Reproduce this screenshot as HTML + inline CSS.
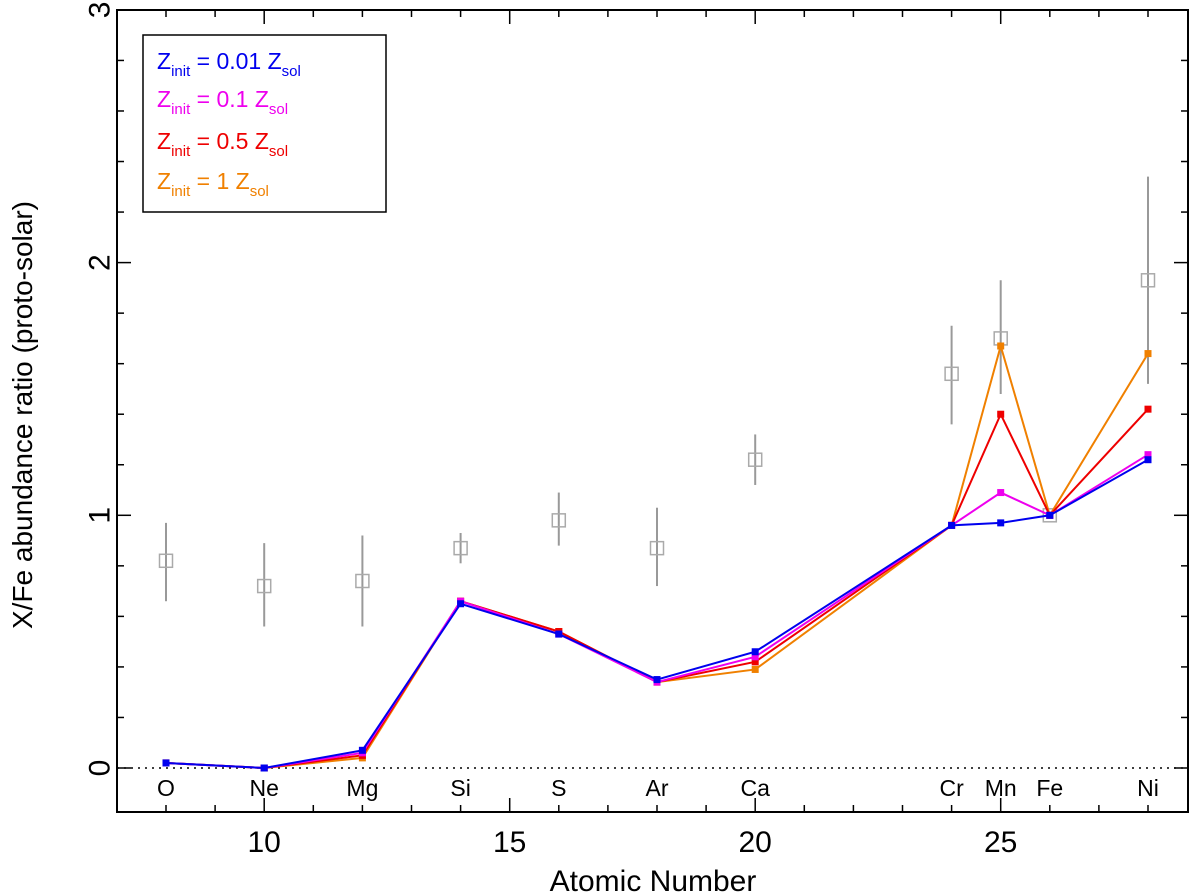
<!DOCTYPE html>
<html><head><meta charset="utf-8"><style>
body{margin:0;background:#fff}
svg{display:block;font-family:"Liberation Sans",sans-serif}
</style></head><body>
<svg id="c" width="1200" height="893" xmlns="http://www.w3.org/2000/svg">
<g id="grid"></g>
<rect x="117" y="10" width="1071" height="802" fill="none" stroke="#000" stroke-width="2"/>
<text x="32" y="415" font-size="28" text-anchor="middle" transform="rotate(-90 32 415)">X/Fe abundance ratio (proto-solar)</text>
<text x="653" y="891" font-size="30" text-anchor="middle">Atomic Number</text>
<g>
<rect x="143" y="35" width="243" height="177" fill="#fff" stroke="#000" stroke-width="1.5"/>
<text x="157" y="69" font-size="23" fill="#0000ee">Z<tspan font-size="15" dy="7">init</tspan><tspan dy="-7"> = 0.01 Z</tspan><tspan font-size="15" dy="7">sol</tspan></text>
<text x="157" y="107" font-size="23" fill="#ee00ee">Z<tspan font-size="15" dy="7">init</tspan><tspan dy="-7"> = 0.1 Z</tspan><tspan font-size="15" dy="7">sol</tspan></text>
<text x="157" y="149" font-size="23" fill="#ee0000">Z<tspan font-size="15" dy="7">init</tspan><tspan dy="-7"> = 0.5 Z</tspan><tspan font-size="15" dy="7">sol</tspan></text>
<text x="157" y="189" font-size="23" fill="#f08000">Z<tspan font-size="15" dy="7">init</tspan><tspan dy="-7"> = 1 Z</tspan><tspan font-size="15" dy="7">sol</tspan></text>
</g>
</svg>
<script>
const elements=["O","Ne","Mg","Si","S","Ar","Ca","Cr","Mn","Fe","Ni"];
const atomicNumbers=[8,10,12,14,16,18,20,24,25,26,28];
const obsValues=[0.82,0.72,0.74,0.87,0.98,0.87,1.22,1.56,1.70,1.0,1.93];
const obsLow=[0.66,0.56,0.56,0.81,0.88,0.72,1.12,1.36,1.48,1.0,1.52];
const obsHigh=[0.97,0.89,0.92,0.93,1.09,1.03,1.32,1.75,1.93,1.0,2.34];
const model001=[0.02,0,0.07,0.65,0.53,0.35,0.46,0.96,0.97,1.0,1.22];
const model01=[0.02,0,0.06,0.66,0.53,0.34,0.44,0.96,1.09,1.0,1.24];
const model05=[0.02,0,0.05,0.66,0.54,0.34,0.42,0.96,1.40,1.0,1.42];
const model1=[0.02,0,0.04,0.66,0.54,0.34,0.39,0.96,1.67,1.0,1.64];
const xTicks=[10,15,20,25];
const yTicks=[0,1,2,3];
const NS="http://www.w3.org/2000/svg";
const X=v=>166+(v-8)*49.1;
const Y=v=>768-v*252.7;
const svg=document.getElementById('c');const g=document.getElementById('grid');
function mk(t,a,p){const e=document.createElementNS(NS,t);for(const k in a)e.setAttribute(k,a[k]);(p||g).appendChild(e);return e;}
let z=mk('line',{x1:117,x2:1188,y1:Y(0),y2:Y(0),stroke:'#000','stroke-width':1.5,'stroke-dasharray':'2,5'});


for(let v=8;v<=28;v++){const maj=v%5==0;mk('line',{x1:X(v),x2:X(v),y1:812,y2:812-(maj?14:7),stroke:'#000','stroke-width':1.5});mk('line',{x1:X(v),x2:X(v),y1:10,y2:10+(maj?14:7),stroke:'#000','stroke-width':1.5});}
xTicks.forEach(v=>{const t=mk('text',{x:X(v),y:852,'font-size':30,'text-anchor':'middle'});t.textContent=v;

});
for(let i=0;i<=15;i++){const v=i*0.2;const y=Y(v);if(y<10||y>812)continue;const maj=i%5==0;mk('line',{x1:117,x2:117+(maj?14:7),y1:y,y2:y,stroke:'#000','stroke-width':1.5});mk('line',{x1:1188,x2:1188-(maj?14:7),y1:y,y2:y,stroke:'#000','stroke-width':1.5});}
yTicks.forEach(v=>{const y=Y(v);const t=mk('text',{x:100,y:y,'font-size':30,'text-anchor':'middle',transform:`rotate(-90 100 ${y})`,'dominant-baseline':'central'});t.textContent=v;

});
elements.forEach((el,i)=>{const t=mk('text',{x:X(atomicNumbers[i]),y:796,'font-size':23,'text-anchor':'middle'});t.textContent=el;

});
elements.forEach((el,i)=>{const x=X(atomicNumbers[i]);
if(obsHigh[i]>obsLow[i]){const l=mk('line',{x1:x,x2:x,y1:Y(obsLow[i]),y2:Y(obsHigh[i]),stroke:'#999','stroke-width':2});

}
const r=mk('rect',{x:x-6.5,y:Y(obsValues[i])-6.5,width:13,height:13,fill:'none',stroke:'#aaa','stroke-width':1.5});

});
const series=[[model1,'#f08000','z1'],[model05,'#ee0000','z05'],[model01,'#ee00ee','z01'],[model001,'#0000ee','z001']];
series.forEach(([d,c,n])=>{const pts=d.map((v,i)=>X(atomicNumbers[i])+','+Y(v)).join(' ');
const p=mk('polyline',{points:pts,fill:'none',stroke:c,'stroke-width':2});


d.forEach((v,i)=>{const r=mk('rect',{x:X(atomicNumbers[i])-3.5,y:Y(v)-3.5,width:7,height:7,fill:c});

});});
</script>
</body></html>
